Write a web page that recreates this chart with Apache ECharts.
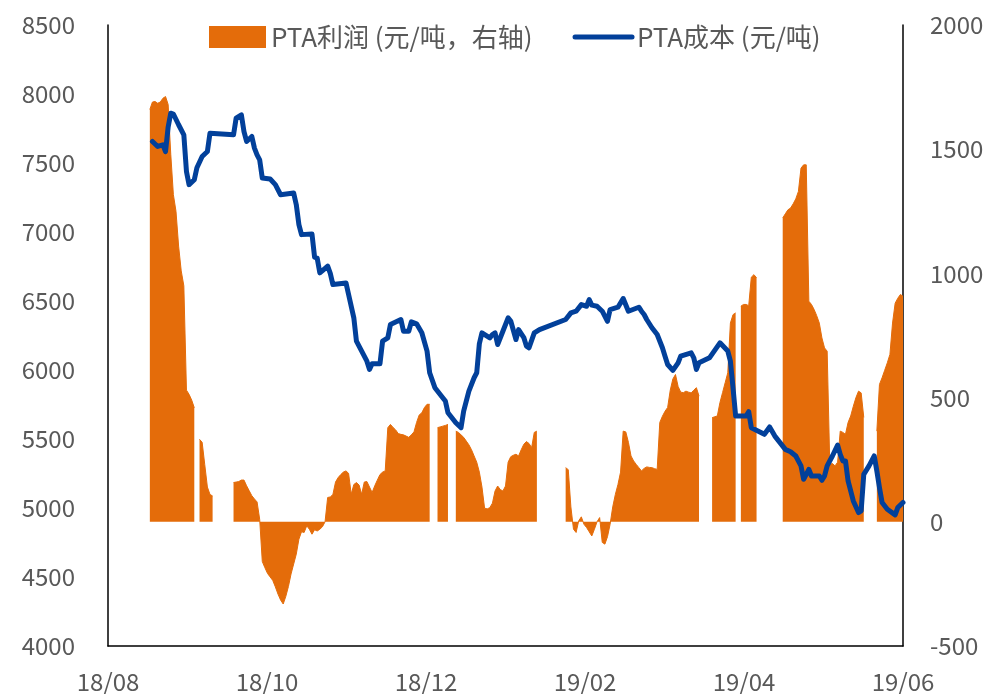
<!DOCTYPE html>
<html>
<head>
<meta charset="utf-8">
<script src="https://cdn.jsdelivr.net/npm/echarts@6/dist/echarts.min.js"></script>
<style>
  html, body { margin: 0; padding: 0; background: #fff; }
  #grafico { width: 995px; height: 694px; }
</style>
</head>
<body>
<div id="grafico"></div>
<script>
// Datos
const inicio = Date.UTC(2018, 7, 1); // 2018-08-01 = dia 0
const paso = 60.8;                   // ~2 meses por marca
const etiquetasX = ['18/08', '18/10', '18/12', '19/02', '19/04', '19/06'];

const nombreBeneficio = 'PTA利润 (元/吨，右轴)';
const nombreCosto = 'PTA成本 (元/吨)';

// PTA成本: fechas y valores
const fechasCosto = ['2018-08-18','2018-08-20','2018-08-22','2018-08-23','2018-08-24','2018-08-25','2018-08-26','2018-08-28','2018-08-30','2018-08-31',
  '2018-09-01','2018-09-03','2018-09-04','2018-09-06','2018-09-08','2018-09-09','2018-09-18','2018-09-19','2018-09-21','2018-09-22',
  '2018-09-23','2018-09-25','2018-09-26','2018-09-27','2018-09-28','2018-09-29','2018-10-02','2018-10-04','2018-10-06','2018-10-11',
  '2018-10-12','2018-10-13','2018-10-14','2018-10-18','2018-10-19','2018-10-20','2018-10-21','2018-10-24','2018-10-25','2018-10-26',
  '2018-10-31','2018-11-01','2018-11-03','2018-11-04','2018-11-06','2018-11-08','2018-11-09','2018-11-10','2018-11-13','2018-11-14',
  '2018-11-16','2018-11-17','2018-11-21','2018-11-22','2018-11-24','2018-11-25','2018-11-27','2018-11-29','2018-12-01','2018-12-02',
  '2018-12-04','2018-12-07','2018-12-08','2018-12-09','2018-12-12','2018-12-14','2018-12-15','2018-12-17','2018-12-19','2018-12-20',
  '2018-12-21','2018-12-22','2018-12-25','2018-12-26','2018-12-27','2018-12-28','2018-12-30','2019-01-01','2019-01-02','2019-01-04',
  '2019-01-05','2019-01-07','2019-01-08','2019-01-09','2019-01-11','2019-01-13','2019-01-23','2019-01-25','2019-01-27','2019-01-29',
  '2019-01-31','2019-02-01','2019-02-02','2019-02-04','2019-02-06','2019-02-08','2019-02-09','2019-02-12','2019-02-14','2019-02-16',
  '2019-02-20','2019-02-21','2019-02-22','2019-02-23','2019-02-25','2019-02-27','2019-03-01','2019-03-02','2019-03-03','2019-03-05',
  '2019-03-07','2019-03-08','2019-03-12','2019-03-13','2019-03-14','2019-03-15','2019-03-19','2019-03-23','2019-03-26','2019-03-27',
  '2019-03-28','2019-03-29','2019-04-02','2019-04-03','2019-04-04','2019-04-09','2019-04-11','2019-04-13','2019-04-17','2019-04-19',
  '2019-04-21','2019-04-23','2019-04-24','2019-04-26','2019-04-27','2019-04-30','2019-05-01','2019-05-02','2019-05-03','2019-05-05',
  '2019-05-07','2019-05-08','2019-05-09','2019-05-10','2019-05-11','2019-05-13','2019-05-15','2019-05-16','2019-05-17','2019-05-19',
  '2019-05-21','2019-05-22','2019-05-23','2019-05-24','2019-05-26','2019-05-29','2019-05-30','2019-06-01'];

const valoresCosto = [7656,7620,7632,7583,7760,7861,7855,7777,7704,7439,
  7343,7379,7466,7547,7583,7716,7704,7825,7849,7728,
  7656,7692,7608,7559,7523,7391,7384,7343,7270,7282,
  7198,7053,6981,6986,6817,6810,6704,6752,6700,6619,
  6631,6547,6378,6209,6137,6064,6004,6045,6045,6209,
  6233,6330,6366,6281,6281,6349,6335,6270,6137,5980,
  5872,5799,5775,5690,5618,5582,5702,5847,5944,5980,
  6190,6269,6233,6257,6269,6185,6281,6378,6355,6221,
  6293,6235,6173,6161,6269,6293,6366,6414,6426,6474,
  6462,6510,6470,6462,6426,6353,6438,6455,6518,6426,
  6455,6426,6402,6366,6306,6257,6161,6100,6040,5997,
  6052,6100,6124,6088,6004,6052,6088,6197,6137,6064,
  5872,5666,5666,5698,5582,5534,5587,5521,5425,5408,
  5377,5305,5208,5280,5232,5232,5201,5232,5305,5377,
  5456,5389,5341,5341,5196,5051,4967,4979,5244,5305,
  5377,5268,5148,5040,4991,4950,5003,5040];

// PTA利润: un valor por dia desde inicioBeneficio (null = sin dato)
const inicioBeneficio = '2018-08-17';
const valoresBeneficio = [
  1660,1690,1692,1685,1690,1705,1712,1680,1480,1317,1250,1110,1010,950,530,513,490,459,
  null,
  332,320,230,140,110,104,
  null,null,null,null,null,null,null,
  158,160,162,168,168,145,125,105,92,80,10,-160,-185,-208,-222,-236,-262,-291,-315,-331,
  -300,-260,-210,-170,-130,-70,-40,-43,-16,-30,-50,-32,-37,-30,-20,0,98,100,110,160,
  178,190,200,205,195,111,150,158,148,111,160,162,140,118,145,168,190,200,205,379,
  392,380,370,355,352,350,345,340,350,362,400,430,439,460,473,473,
  null,null,
  379,382,385,388,392,
  null,null,
  365,360,350,340,325,310,290,265,240,200,140,55,52,57,75,124,144,130,124,144,
  240,262,268,272,265,290,312,323,315,299,360,365,
  null,null,null,null,null,null,null,null,null,null,
  218,210,60,-30,-43,4,20,-10,-23,-40,-57,-30,0,17,-83,-90,-60,-10,60,110,
  150,200,365,362,320,265,245,231,218,205,215,221,219,218,214,211,400,425,445,460,
  530,575,593,545,522,520,526,522,519,530,540,506,
  null,null,null,null,
  419,423,426,480,520,560,600,800,834,841,
  null,
  868,875,875,870,985,995,982,
  null,null,null,null,null,null,null,null,null,
  1223,1240,1256,1263,1280,1300,1330,1424,1437,1437,888,875,855,830,800,740,
  700,687,231,235,225,240,365,360,352,400,426,465,500,526,519,420,
  null,null,null,null,
  365,553,580,610,640,674,800,880,900,915,908
];

// PROCESAMIENTO
function diaDe(fecha) {
    const p = fecha.split('-').map(Number);
    return (Date.UTC(p[0], p[1] - 1, p[2]) - inicio) / 86400000;
}

function procesarCosto() {
    return fechasCosto.map((f, i) => [diaDe(f), valoresCosto[i]]);
}

function procesarBeneficio() {
    const d0 = diaDe(inicioBeneficio);
    return valoresBeneficio.map((v, i) => [d0 + i, v]);
}

const fuente = 'Noto Sans CJK SC';
const gris = '#595959';
const naranja = '#E46C0A';
const azul = '#02409A';

function crearGrafico() {
    const ejeY = {
        type: 'value',
        interval: 500,
        axisLine: { show: true, lineStyle: { color: '#000', width: 1.5 } },
        axisTick: { show: false },
        splitLine: { show: false }
    };
    return {
        animation: false,
        textStyle: { fontFamily: fuente },
        grid: { left: 108, right: 92, top: 25, bottom: 47 },
        legend: {
            left: 204,
            top: 19,
            itemWidth: 57,
            itemHeight: 22,
            itemGap: 40,
            textStyle: { fontSize: 26, color: gris, fontFamily: fuente },
            data: [
                { name: nombreBeneficio, icon: 'rect' },
                { name: nombreCosto, itemStyle: { opacity: 0 }, lineStyle: { width: 5, cap: 'round' } }
            ]
        },
        xAxis: {
            type: 'value',
            min: 0,
            max: 304,
            interval: paso,
            axisLine: { show: true, onZero: false, lineStyle: { color: '#000', width: 1.5 } },
            axisTick: { show: false },
            splitLine: { show: false },
            axisLabel: {
                margin: 24,
                fontSize: 24,
                color: gris,
                fontFamily: fuente,
                showMinLabel: true,
                showMaxLabel: true,
                formatter: v => etiquetasX[Math.round(v / paso)] || ''
            }
        },
        yAxis: [
            Object.assign({}, ejeY, {
                min: 4000,
                max: 8500,
                axisLabel: { margin: 33, fontSize: 24, color: gris, fontFamily: fuente, formatter: v => String(v) }
            }),
            Object.assign({}, ejeY, {
                position: 'right',
                min: -500,
                max: 2000,
                axisLabel: { margin: 27, fontSize: 24, color: gris, fontFamily: fuente, formatter: v => String(v) }
            })
        ],
        series: [
            {
                name: nombreBeneficio,
                type: 'line',
                yAxisIndex: 1,
                symbol: 'none',
                connectNulls: false,
                color: naranja,
                lineStyle: { width: 1, color: naranja },
                areaStyle: { color: naranja, opacity: 1 },
                data: procesarBeneficio()
            },
            {
                name: nombreCosto,
                type: 'line',
                yAxisIndex: 0,
                symbol: 'none',
                color: azul,
                lineStyle: { width: 5, color: azul, cap: 'round', join: 'round' },
                data: procesarCosto()
            }
        ]
    };
}

function iniciar() {
    const chartDom = document.getElementById('grafico');
    const myChart = echarts.init(chartDom, null, { renderer: 'canvas' });
    myChart.setOption(crearGrafico());
}

iniciar();
</script>
</body>
</html>
